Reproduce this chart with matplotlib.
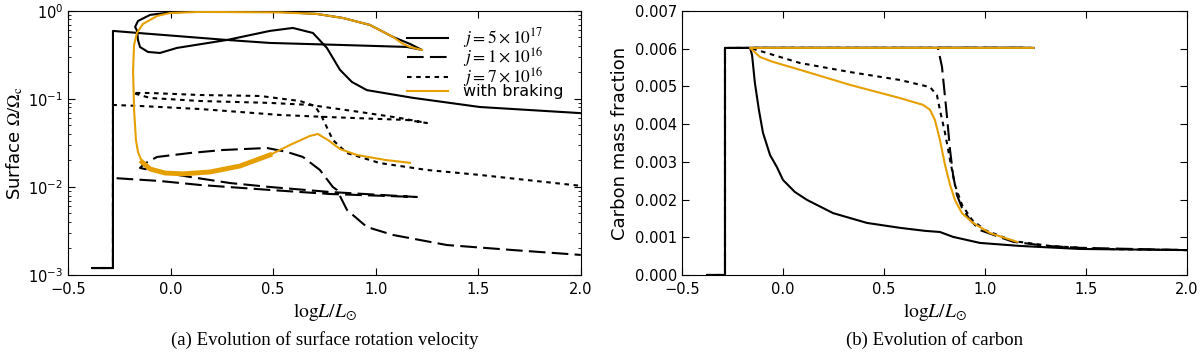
import matplotlib
matplotlib.use("Agg")
import matplotlib.pyplot as plt
from matplotlib.ticker import FormatStrFormatter

plt.rcParams["mathtext.fontset"] = "stix"
plt.rcParams["font.family"] = "DejaVu Sans"

# ----- COLOURS / LABELS -----
ORANGE = "#E69F00"
labels = [r"$j=5\times10^{17}$", r"$j=1\times10^{16}$", r"$j=7\times10^{16}$", "with braking"]

# ----- (a) SURFACE ROTATION, Omega/Omega_c vs log L -----
omega_solid_x = [-0.383, -0.281, -0.281, -0.159, 0.275, 0.484, 0.826, 1.152, 1.225, 1.167, 1.084,
                 0.972, 0.840, 0.713, 0.533, 0.143, -0.003, -0.100, -0.159, -0.173, -0.163, -0.159,
                 -0.149, -0.110, -0.052, 0.031, 0.275, 0.484, 0.596, 0.694, 0.762, 0.826, 0.884,
                 0.957, 1.181, 1.508, 2.0]
omega_solid_y = [0.0012, 0.0012, 0.593, 0.562, 0.468, 0.433, 0.411, 0.390, 0.361, 0.422, 0.507,
                 0.693, 0.832, 0.925, 0.975, 0.986, 0.962, 0.902, 0.769, 0.658, 0.593, 0.468,
                 0.389, 0.342, 0.333, 0.380, 0.468, 0.593, 0.641, 0.562, 0.380, 0.214, 0.156,
                 0.126, 0.103, 0.081, 0.069]

omega_dashed_x = [-0.383, -0.281, -0.281, -0.052, 0.143, 0.484, 0.777, 1.201, 0.777, 0.484, 0.289,
                  0.095, -0.052, -0.149, -0.130, -0.066, 0.095, 0.255, 0.470, 0.567, 0.645, 0.728,
                  0.791, 0.811, 0.860, 0.957, 1.084, 1.347, 1.669, 2.0]
omega_dashed_y = [0.0012, 0.0012, 0.01265, 0.01169, 0.01054, 0.00925, 0.00832, 0.00769, 0.00877,
                  0.0100, 0.01109, 0.0130, 0.01479, 0.01644, 0.01824, 0.02193, 0.02432, 0.0263,
                  0.02773, 0.0250, 0.02193, 0.0156, 0.0100, 0.00925, 0.00548, 0.00351, 0.00285,
                  0.00219, 0.00192, 0.00169]

omega_dotted_x = [-0.383, -0.281, -0.281, -0.149, 0.143, 0.533, 0.762, 1.152, 1.25, 1.118, 0.923,
                  0.679, 0.484, 0.143, -0.100, -0.183, -0.100, 0.143, 0.436, 0.631, 0.704, 0.738,
                  0.791, 0.860, 1.020, 1.25, 1.508, 2.0]
omega_dotted_y = [0.0012, 0.0012, 0.0855, 0.0832, 0.0769, 0.0658, 0.0624, 0.0577, 0.0533, 0.0608,
                  0.0711, 0.0855, 0.0902, 0.0948, 0.1026, 0.1169, 0.1169, 0.1109, 0.1081, 0.0948,
                  0.0832, 0.0624, 0.0342, 0.0243, 0.0187, 0.0156, 0.0137, 0.0103]

omega_brake_x = [1.225, 1.167, 1.133, 1.084, 0.972, 0.840, 0.713, 0.533, 0.143, -0.003, -0.066,
                 -0.135, -0.164, -0.178, -0.183, -0.178, -0.169, -0.159, -0.139, -0.100, -0.027,
                 0.060, 0.192, 0.338, 0.484, 0.582, 0.679, 0.718, 0.767, 0.826, 0.908, 1.045, 1.167]
omega_brake_y = [0.361, 0.390, 0.422, 0.507, 0.693, 0.832, 0.925, 0.962, 0.975, 0.948, 0.877,
                 0.711, 0.562, 0.411, 0.214, 0.0750, 0.0342, 0.0250, 0.0192, 0.0160, 0.0144,
                 0.0141, 0.0148, 0.0173, 0.0231, 0.0300, 0.0380, 0.0400, 0.0342, 0.0270, 0.0231,
                 0.0203, 0.0188]
NOISY = slice(18, 25)  # stretch of the braking track that is drawn thick/noisy

# ----- (b) CARBON MASS FRACTION vs log L -----
carbon_solid_x = [-0.376, -0.287, -0.287, 1.225, -0.163, -0.153, -0.139, -0.119, -0.099, -0.064,
                  -0.030, 0.0, 0.059, 0.119, 0.248, 0.416, 0.579, 0.703, 0.777, 0.842, 0.975,
                  1.173, 1.470, 2.0]
carbon_solid_y = [0.0, 0.0, 0.00602, 0.00602, 0.00602, 0.00583, 0.00509, 0.00437, 0.00377, 0.00318,
                  0.00286, 0.00252, 0.0022, 0.00199, 0.00164, 0.00138, 0.00125, 0.00117, 0.00114,
                  0.00101, 0.00085, 0.00077, 0.00069, 0.00066]

carbon_dashed_x = [-0.376, -0.287, -0.287, 1.201, 0.767, 0.787, 0.812, 0.827, 0.842, 0.861, 0.886,
                   0.926, 0.975, 1.139, 1.307, 1.470, 2.0]
carbon_dashed_y = [0.0, 0.0, 0.00602, 0.00602, 0.00602, 0.00552, 0.00419, 0.00331, 0.00265, 0.00212,
                   0.00178, 0.00146, 0.00119, 0.00088, 0.00077, 0.00072, 0.00066]

carbon_dotted_x = [-0.376, -0.287, -0.287, 1.25, -0.163, 0.084, 0.332, 0.579, 0.728, 0.762, 0.777,
                   0.802, 0.827, 0.851, 0.886, 0.936, 1.0, 1.139, 1.322, 1.569, 2.0]
carbon_dotted_y = [0.0, 0.0, 0.00602, 0.00602, 0.00602, 0.00562, 0.00538, 0.00517, 0.00498, 0.00477,
                   0.00437, 0.00377, 0.00305, 0.00239, 0.00186, 0.00146, 0.00119, 0.0009, 0.00077,
                   0.00069, 0.00066]

carbon_brake_x = [1.238, -0.163, -0.114, -0.050, 0.084, 0.332, 0.579, 0.693, 0.728, 0.752, 0.777,
                  0.802, 0.827, 0.851, 0.886, 0.941, 1.025, 1.158]
carbon_brake_y = [0.00602, 0.00602, 0.00578, 0.00565, 0.00544, 0.00504, 0.00469, 0.00451, 0.00438,
                  0.00411, 0.00358, 0.00292, 0.00239, 0.00199, 0.00164, 0.00138, 0.00111, 0.00088]

# ----- LINE STYLES -----
LW = 1.5
dash_long = (0, (8, 3))
dash_dot = (0, (2.2, 2.2))


def style_axes(ax):
    ax.set_xlim(-0.5, 2.0)
    ax.set_xticks([-0.5, 0.0, 0.5, 1.0, 1.5, 2.0])
    ax.tick_params(which="both", direction="in", top=True, right=True, labelsize=10.5)
    ax.tick_params(which="major", length=5)
    ax.tick_params(which="minor", length=2.5)
    ax.tick_params(axis="x", pad=5)
    ax.set_xlabel(r"$\mathrm{log}L/L_{\odot}$", fontsize=14, labelpad=3)


fig = plt.figure(figsize=(12, 3.53), dpi=100)
ax1 = fig.add_axes([0.0567, 0.221, 0.4273, 0.748])
ax2 = fig.add_axes([0.5683, 0.221, 0.4209, 0.748])

# panel (a)
ax1.plot(omega_solid_x, omega_solid_y, color="k", lw=LW, label=labels[0])
ax1.plot(omega_dashed_x, omega_dashed_y, color="k", lw=LW, linestyle=dash_long, label=labels[1])
ax1.plot(omega_dotted_x, omega_dotted_y, color="k", lw=LW, linestyle=dash_dot, label=labels[2])
ax1.plot(omega_brake_x, omega_brake_y, color=ORANGE, lw=LW, label=labels[3], zorder=3)
ax1.plot(omega_brake_x[NOISY], omega_brake_y[NOISY], color=ORANGE, lw=3.5, zorder=3)
ax1.set_yscale("log")
ax1.set_ylim(1e-3, 1.0)
style_axes(ax1)
ax1.set_ylabel(r"Surface $\Omega/\Omega_{\rm c}$", fontsize=13, labelpad=2)
leg = ax1.legend(loc="upper left", bbox_to_anchor=(0.648, 0.968), frameon=False, fontsize=11.5,
                 handlelength=2.6, handletextpad=0.95, labelspacing=-0.28, borderaxespad=0)
for t in leg.get_texts()[:3]:
    t.set_fontsize(12.6)

# panel (b)
ax2.plot(carbon_solid_x, carbon_solid_y, color="k", lw=LW)
ax2.plot(carbon_dashed_x, carbon_dashed_y, color="k", lw=LW, linestyle=dash_long)
ax2.plot(carbon_dotted_x, carbon_dotted_y, color="k", lw=LW, linestyle=dash_dot)
ax2.plot(carbon_brake_x, carbon_brake_y, color=ORANGE, lw=LW, zorder=3)
ax2.set_ylim(0.0, 0.007)
ax2.set_yticks([0.000, 0.001, 0.002, 0.003, 0.004, 0.005, 0.006, 0.007])
ax2.yaxis.set_major_formatter(FormatStrFormatter("%.3f"))
style_axes(ax2)
ax2.set_ylabel("Carbon mass fraction", fontsize=13, labelpad=4)

# captions
fig.text(0.271, 0.037, "(a) Evolution of surface rotation velocity", ha="center", va="center",
         family="Liberation Serif", fontsize=13.5)
fig.text(0.779, 0.037, "(b) Evolution of carbon", ha="center", va="center",
         family="Liberation Serif", fontsize=13.5)

fig.savefig("out.png", dpi=100)
